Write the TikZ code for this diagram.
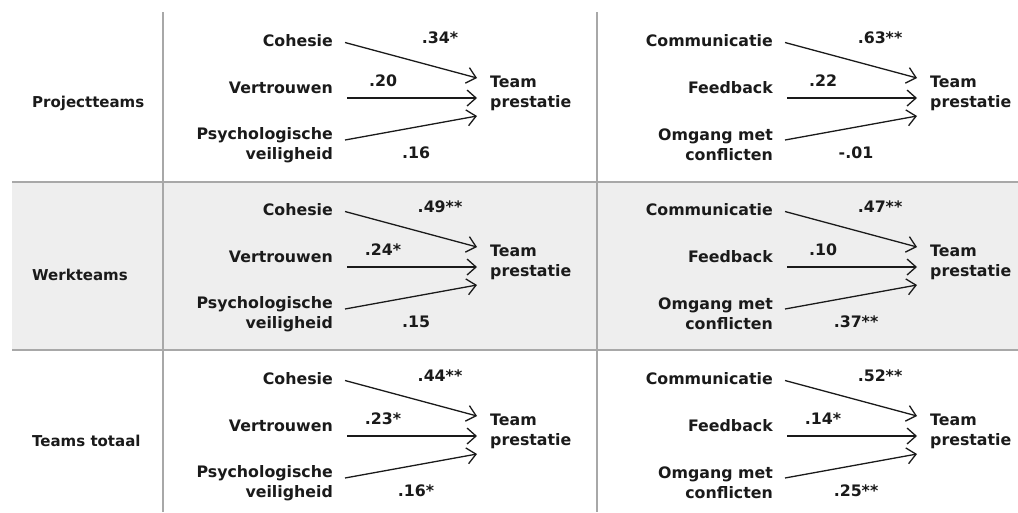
\documentclass[tikz,border=0pt]{standalone}
\usepackage{fontspec}
\setmainfont{DejaVu Sans}
\usetikzlibrary{arrows.meta}
\definecolor{gridc}{HTML}{A8A8A8}
\definecolor{rowfill}{HTML}{EEEEEE}
\definecolor{ink}{HTML}{1A1A1A}
\tikzset{
  basefont/.style={font=\fontsize{15.8}{20}\selectfont\bfseries, text=ink, inner sep=0pt},
  txt/.style={basefont, align=right, anchor=east},
  tgt/.style={basefont, align=left, anchor=west},
  coef/.style={basefont},
  rowlab/.style={font=\fontsize{15}{20}\selectfont\bfseries, text=ink, inner sep=0pt, anchor=west},
  arr/.style={draw=ink, line width=1.3pt, -{Straight Barb[length=9pt,width=16pt,line width=1.3pt]}},
  gridline/.style={draw=gridc, line width=1.8pt}
}
\newcommand{\mypanel}[9]{%
  \begin{scope}[shift={(#2,#3)}]
    \node[txt] (#1a) at (333,29) {#4};
    \node[txt] (#1b) at (333,76) {#5};
    \node[txt] (#1c) at (333,133) {#6};
    \node[tgt] (#1t) at (490,81) {Team\\prestatie};
    \draw[arr] ([xshift=12pt,yshift=-1.5pt]#1a.east) -- ([xshift=-13pt,yshift=15pt]#1t.west);
    \draw[arr] ([xshift=14pt,yshift=-10pt]#1b.east) -- ([xshift=-13pt,yshift=-5pt]#1t.west);
    \draw[arr] ([xshift=12pt,yshift=5pt]#1c.east) -- ([xshift=-13pt,yshift=-23pt]#1t.west);
    \node[coef] (#1p) at (440,26) {#7};
    \node[coef] (#1q) at (383,69) {#8};
    \node[coef] (#1r) at (416,141) {#9};
  \end{scope}}
\begin{document}
\begin{tikzpicture}[x=1pt,y=-1pt]
  \useasboundingbox[fill=white] (0,0) rectangle (1018,512);
  \fill[rowfill] (12,182) rectangle (1018,350);
  \draw[gridline] (12,182) -- (1018,182);
  \draw[gridline] (12,350) -- (1018,350);
  \draw[gridline] (163,12) -- (163,512);
  \draw[gridline] (597,12) -- (597,512);

  \node[rowlab] (r1) at (32,103) {Projectteams};
  \node[rowlab] (r2) at (32,275) {Werkteams};
  \node[rowlab] (r3) at (32,441) {Teams totaal};

  \mypanel{pa}{0}{12}{Cohesie}{Vertrouwen}{Psychologische\\veiligheid}{.34*}{.20}{.16}
  \mypanel{pb}{440}{12}{Communicatie}{Feedback}{Omgang met\\conflicten}{.63**}{.22}{-.01}
  \mypanel{wa}{0}{181}{Cohesie}{Vertrouwen}{Psychologische\\veiligheid}{.49**}{.24*}{.15}
  \mypanel{wb}{440}{181}{Communicatie}{Feedback}{Omgang met\\conflicten}{.47**}{.10}{.37**}
  \mypanel{ta}{0}{350}{Cohesie}{Vertrouwen}{Psychologische\\veiligheid}{.44**}{.23*}{.16*}
  \mypanel{tb}{440}{350}{Communicatie}{Feedback}{Omgang met\\conflicten}{.52**}{.14*}{.25**}
\end{tikzpicture}
\end{document}
